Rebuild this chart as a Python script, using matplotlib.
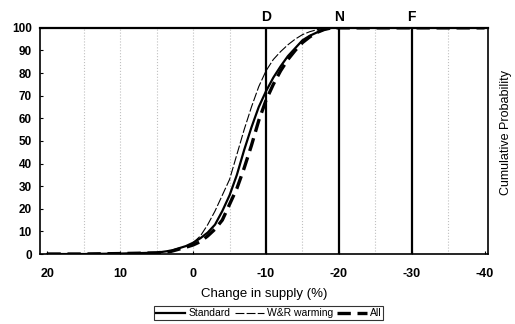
import matplotlib
matplotlib.use("Agg")
import matplotlib.pyplot as plt
import numpy as np

plt.rcParams['font.family'] = ['Liberation Sans', 'DejaVu Sans']
plt.rcParams['axes.unicode_minus'] = False

# Change in supply (%) and cumulative probability for each scenario
supply_change = [20, 15, 10, 5, 3, 1, 0, -1, -2, -3, -4, -5, -6, -7, -8, -9, -10,
                 -11, -12, -13, -14, -15, -16, -17, -18, -19, -20, -30, -40]
standard = [0, 0, 0.2, 0.6, 1.5, 3.5, 5, 7, 9.5, 13, 19, 26, 35, 46, 56, 65, 72,
            78, 83, 87.5, 91, 94.5, 96.5, 98, 99.3, 100, 100, 100, 100]
wr_start = 6  # W&R curve splits off the standard curve at 0 %
wr_warming = [5, 8, 13, 19, 26, 33, 44, 55, 65, 74, 81,
              86, 89.5, 92.5, 95, 97, 98.3, 99.2, 99.7, 100, 100, 100, 100]
all_scen = [0, 0, 0.2, 0.5, 1.2, 3, 4, 5.5, 8, 11, 15, 22, 29, 38, 48, 59, 68,
            75, 81, 86, 90, 93.5, 96, 98, 99.3, 100, 100, 100, 100]

marker_lines = [-10, -20, -30]
marker_names = ["D", "N", "F"]
dotted_grid = [15, 10, 5, 0, -5, -15, -25, -35]

fig = plt.figure(figsize=(5.15, 3.24), dpi=100)
ax = fig.add_axes([0.078, 0.216, 0.87, 0.698])

for g in dotted_grid:
    ax.axvline(g, color='#c0c0c0', linestyle=':', linewidth=0.8, zorder=1)

for xv, name in zip(marker_lines, marker_names):
    ax.axvline(xv, color='black', linewidth=1.6, zorder=2)
    ax.text(xv, 101.5, name, ha='center', va='bottom', fontsize=10, fontweight='bold')

ax.plot(supply_change, standard, color='black', linewidth=1.6, label='Standard', zorder=3)
ax.plot(supply_change[wr_start:], wr_warming, color='black', linewidth=0.8,
        linestyle=(0, (8, 2)), label='W&R warming', zorder=3)
ax.plot(supply_change, all_scen, color='black', linewidth=2.4,
        linestyle=(0, (4, 2)), label='All', zorder=3)

ax.set_xlim(21, -40.5)
ax.set_ylim(0, 100)
ax.set_xticks([20, 10, 0, -10, -20, -30, -40])
ax.set_yticks(range(0, 101, 10))
ax.tick_params(axis='y', direction='in', length=2, labelsize=8.5, pad=6)
ax.tick_params(axis='x', direction='in', length=2, labelsize=9, pad=10)
for lbl in ax.get_xticklabels() + ax.get_yticklabels():
    lbl.set_fontweight('bold')

for side in ['left', 'bottom', 'right']:
    ax.spines[side].set_linewidth(1.2)
ax.spines['top'].set_linewidth(1.6)

ax.set_xlabel("Change in supply (%)", fontsize=9.5, labelpad=6)
fig.text(0.982, 0.59, "Cumulative Probability", rotation=90, ha='center', va='center', fontsize=9)

leg = fig.legend(loc='lower center', bbox_to_anchor=(0.522, -0.005), ncol=3, fontsize=7.5,
                 frameon=True, fancybox=False, edgecolor='black', handlelength=2.8,
                 handletextpad=0.3, columnspacing=0.4, borderpad=0.2)
leg.get_frame().set_linewidth(0.8)

fig.savefig("out.png", dpi=100)
